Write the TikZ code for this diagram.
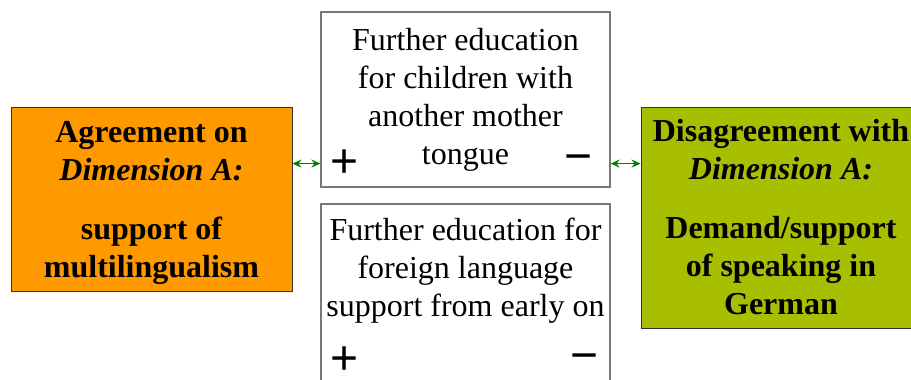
\documentclass[tikz,border=0pt]{standalone}
\usepackage{fontspec}
\setmainfont{Liberation Serif}
\newfontfamily\signfont{Liberation Sans}
\usetikzlibrary{arrows.meta,positioning}
\definecolor{agreeorange}{RGB}{255,153,0}
\definecolor{disagreegreen}{RGB}{168,190,0}
\definecolor{linkgreen}{RGB}{0,128,0}
\definecolor{boxgrey}{RGB}{120,120,120}
\tikzset{
  base/.style={align=center, inner sep=0pt, text=black},
  pole/.style={base, rectangle, draw=black!80, line width=0.8pt, font=\fontsize{32}{38}\selectfont\bfseries},
  edu/.style={base, rectangle, draw=boxgrey, fill=white, line width=1.2pt, minimum width=289pt, font=\fontsize{32}{38}\selectfont},
  sign/.style={base, font=\signfont\fontsize{48}{48}\selectfont},
  link/.style={{Stealth[length=9pt,width=8pt]}-{Stealth[length=9pt,width=8pt]}, line width=1.8pt, draw=linkgreen},
}
\begin{document}
\begin{tikzpicture}[x=1pt,y=1pt]
  \useasboundingbox (0,0) rectangle (911,380);
  \clip (0,0) rectangle (911,380);
  % the two poles of dimension A
  \node[pole, fill=agreeorange, minimum width=281pt, minimum height=184pt] (agree) at (151.5,181) {};
  \node[pole, draw=none, yshift=-4pt] (agreetext) at (agree.center)
    {Agreement on\\\textit{Dimension A:}\\[21pt]support of\\multilingualism};
  \node[pole, fill=disagreegreen, minimum width=280pt, minimum height=221pt] (disagree) at (781,162.5)
    {Disagreement with\\\textit{Dimension A:}\\[21pt]Demand/support\\of speaking in\\German};
  % further education boxes
  \node[edu, minimum height=175pt] (educhild) at (465.5,280.5)
    {Further education\\for children with\\another mother\\tongue};
  \node[edu, minimum height=191pt] (eduforeign) at (465.5,80.5) {};
  \node[base, font=\fontsize{32}{38}\selectfont, below=14pt of eduforeign.north] (eduforeigntext)
    {Further education for\\foreign language\\support from early on};
  % plus and minus signs
  \node[sign] (childplus) at ([xshift=24pt,yshift=24pt]educhild.south west) {+};
  \node[sign] (childminus) at ([xshift=-32pt,yshift=24pt]educhild.south east) {−};
  \node[sign] (foreignplus) at (345,19) {+};
  \node[sign] (foreignminus) at (585,17) {−};
  % links
  \draw[link] (agree.east |- childplus) -- (educhild.west |- childplus);
  \draw[link] (educhild.east |- childplus) -- (disagree.west |- childplus);
\end{tikzpicture}
\end{document}
